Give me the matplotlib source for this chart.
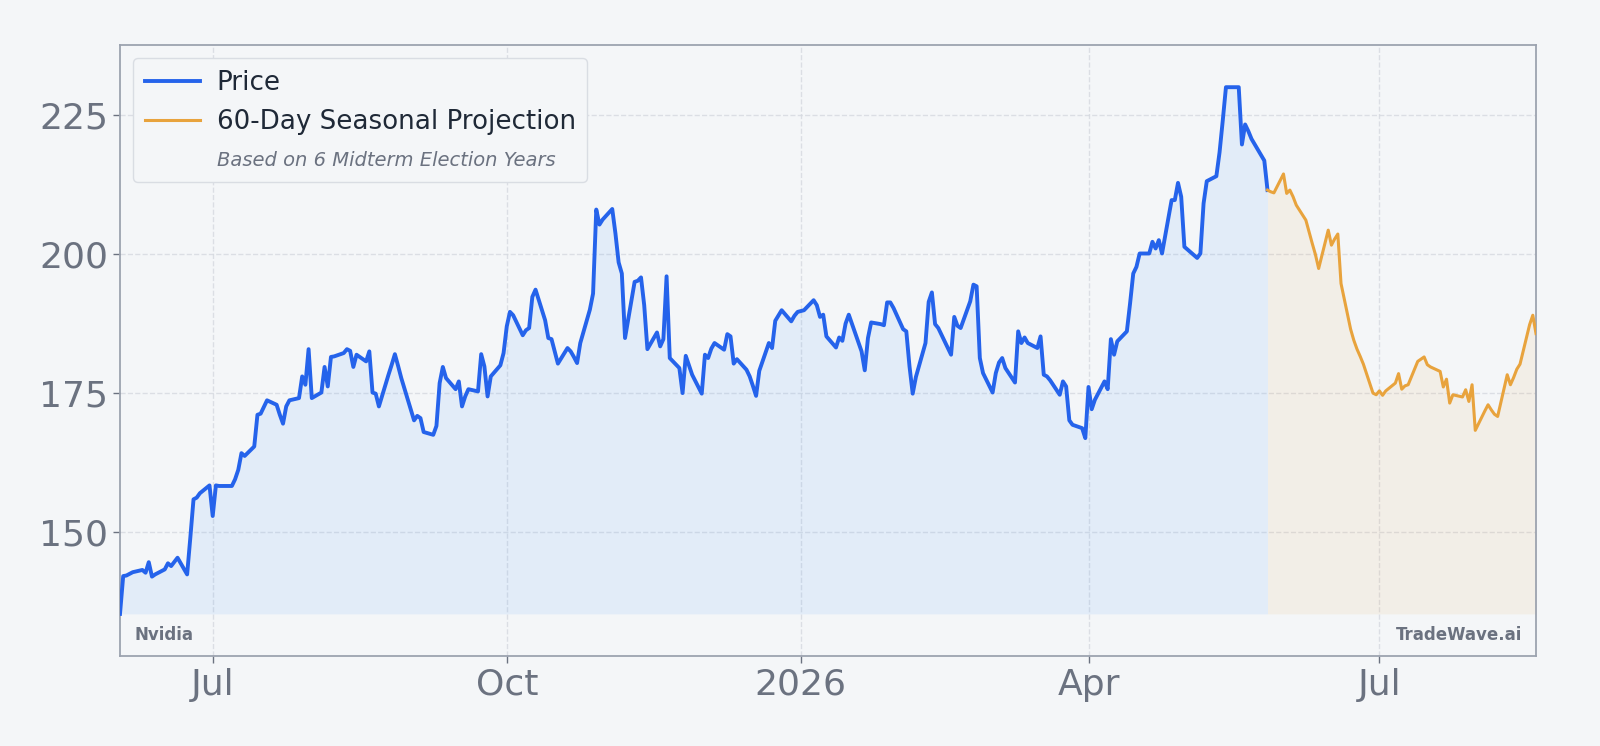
import numpy as np
import pandas as pd
import matplotlib
matplotlib.use("Agg")
import matplotlib.pyplot as plt
import matplotlib.dates as mdates
from matplotlib.lines import Line2D

# closing prices, one value per NYSE trading day from 2025-06-02 to 2026-05-27
price = [
    135.3, 142.1, 142.2, 142.5, 142.8,
    143.2, 142.7, 144.6, 142.0, 142.4,
    143.3, 144.4, 143.9, 145.4,
    142.4, 149.0, 155.9, 156.2, 157.0,
    158.4, 152.9, 158.4, 158.3,
    158.3, 159.5, 161.2, 164.2, 163.7,
    165.4, 171.1, 171.3, 172.5, 173.7,
    172.9, 171.1, 169.5, 172.6, 173.7,
    174.1, 178.0, 176.5, 182.9, 174.1,
    175.1, 179.7, 176.2, 181.5, 181.6,
    182.2, 182.9, 182.6, 179.7, 181.9,
    180.7, 182.5, 175.1, 174.9, 172.6,
    178.3, 180.1, 182.0, 179.9, 177.7,
    170.1, 170.9, 170.5, 168.0,
    167.5, 169.1, 176.8, 179.7, 177.7,
    175.7, 177.1, 172.6, 174.4, 175.7,
    175.3, 182.0, 179.8, 174.4, 178.0,
    180.0, 182.2, 187.0, 189.6, 189.0,
    185.4, 186.3, 186.7, 192.3, 193.6,
    188.1, 184.9, 184.7, 182.5, 180.3,
    183.1, 182.5, 181.5, 180.4, 184.0,
    190.0, 192.9, 208.0, 205.3, 206.2,
    208.1, 203.7, 198.5, 196.5, 184.9,
    195.0, 195.2, 195.8, 190.8, 182.9,
    185.9, 183.4, 184.7, 196.0, 181.3,
    179.5, 175.0, 181.7, 178.3,
    174.9, 181.9, 181.3, 183.0, 184.0,
    182.8, 185.6, 185.2, 180.3, 181.1,
    179.2, 178.0, 176.3, 174.5, 179.0,
    184.0, 183.1, 188.0, 189.9,
    187.9, 188.9, 189.6, 189.9,
    191.7, 190.8, 188.7, 189.1, 185.2,
    183.2, 185.0, 184.4, 187.5, 189.1,
    182.5, 179.1, 184.9, 187.7,
    187.4, 187.2, 191.3, 191.3, 190.3,
    186.5, 186.1, 179.8, 174.9, 177.9,
    184.0, 191.4, 193.1, 187.4, 186.7,
    181.9, 188.7, 187.1, 186.7,
    191.5, 194.5, 194.2, 181.3, 178.6,
    175.1, 178.6, 180.5, 181.3, 179.5,
    176.9, 186.1, 184.0, 185.0, 184.0,
    183.1, 185.2, 178.3, 178.0, 177.3,
    174.7, 177.1, 176.2, 170.1, 169.3,
    168.7, 166.9, 176.1, 172.1, 173.8,
    177.1, 175.7, 184.7, 181.9, 184.3,
    186.1, 191.1, 196.5, 197.7, 200.1,
    200.1, 202.2, 201.0, 202.5, 200.1,
    209.7, 209.7, 212.8, 210.3, 201.3,
    199.8, 199.3, 200.1, 209.1, 213.1,
    214.0, 218.3, 224.0, 230.0, 230.0,
    230.0, 219.7, 223.3, 222.1, 220.7,
    216.8, 211.5,
]
holidays = ["2025-06-19", "2025-07-04", "2025-09-01", "2025-11-27", "2025-12-25",
            "2026-01-01", "2026-01-19", "2026-02-16", "2026-05-25"]

# 60-day seasonal projection (business days after the last close)
projection = [
    211.2, 211.0,
    214.4, 210.9, 211.5, 210.3, 208.8,
    206.1, 204.0, 201.9, 199.9, 197.4,
    204.3, 201.6, 202.7, 203.6, 194.7,
    186.5, 184.5, 182.9, 181.6, 180.2,
    175.0, 174.7, 175.4, 174.6, 175.4,
    176.8, 178.5, 175.7, 176.3, 176.5,
    180.7, 181.1, 181.5, 180.1, 179.7,
    178.9, 176.1, 177.5, 173.2, 174.7,
    174.3, 175.6, 173.5, 176.5, 168.3,
    171.8, 172.9, 172.0, 171.2, 170.8,
    178.3, 176.5, 177.8, 179.3, 180.2,
    187.3, 189.0, 185.7,
]

dates = pd.bdate_range("2025-06-02", "2026-05-27", freq="C", holidays=holidays)
proj_dates = pd.bdate_range(dates[-1] + pd.Timedelta(days=1), periods=len(projection))

price = np.array(price)
proj_x = dates[-1:].append(proj_dates).to_pydatetime()
proj_y = np.array([price[-1]] + projection)
dates = dates.to_pydatetime()

blue = "#2563EB"
orange = "#E8A33D"
gray = "#6B7280"
bg = "#F4F6F8"

fig = plt.figure(figsize=(16, 7.46), dpi=100, facecolor=bg)
ax = fig.add_axes([0.075, 0.1206, 0.885, 0.819])
ax.set_facecolor(bg)

base = price.min()
ax.fill_between(dates, price, base, color="#60A5FA", alpha=0.12, lw=0)
ax.fill_between(proj_x, proj_y, base, color=orange, alpha=0.09, lw=0)
ax.plot(dates, price, color=blue, lw=2.8, zorder=3)
ax.plot(proj_x, proj_y, color=orange, lw=2.2, zorder=3)

lo = min(price.min(), min(projection))
hi = max(price.max(), max(projection))
rng = hi - lo
ax.set_ylim(lo - 0.08 * rng, hi + 0.08 * rng)
ax.set_xlim(dates[0], proj_x[-1])
ax.set_yticks([150, 175, 200, 225])


def month_label(v, pos):
    d = mdates.num2date(v)
    return d.strftime("%Y") if d.month == 1 else d.strftime("%b")


ax.xaxis.set_major_locator(mdates.MonthLocator(bymonth=[1, 4, 7, 10]))
ax.xaxis.set_major_formatter(plt.FuncFormatter(month_label))

ax.grid(True, linestyle="--", color="#D5D9DF", lw=1.0, alpha=0.8)
ax.set_axisbelow(True)
ax.tick_params(labelsize=26, colors=gray, length=5, width=1)
for s in ax.spines.values():
    s.set_color("#9CA3AF")
    s.set_linewidth(1.3)

handles = [Line2D([], [], color=blue, lw=2.8),
           Line2D([], [], color=orange, lw=2.2),
           Line2D([], [], color="none")]
labels = ["Price", "60-Day Seasonal Projection", "Based on 6 Midterm Election Years"]
leg = ax.legend(handles, labels, loc="upper left", fontsize=18.8, handlelength=2.1,
                handletextpad=0.65, frameon=True, facecolor=bg, edgecolor="#D9DDE3",
                framealpha=1, borderpad=0.45, labelspacing=0.5)
for t in leg.get_texts()[:2]:
    t.set_color("#1F2937")
t = leg.get_texts()[2]
t.set_fontsize(14)
t.set_style("italic")
t.set_color(gray)

ax.text(0.01, 0.035, "Nvidia", transform=ax.transAxes, fontsize=12,
        fontweight="bold", color=gray, va="center", ha="left")
ax.text(0.99, 0.035, "TradeWave.ai", transform=ax.transAxes, fontsize=12,
        fontweight="bold", color=gray, va="center", ha="right")

fig.savefig("out.png", dpi=100, facecolor=bg)
